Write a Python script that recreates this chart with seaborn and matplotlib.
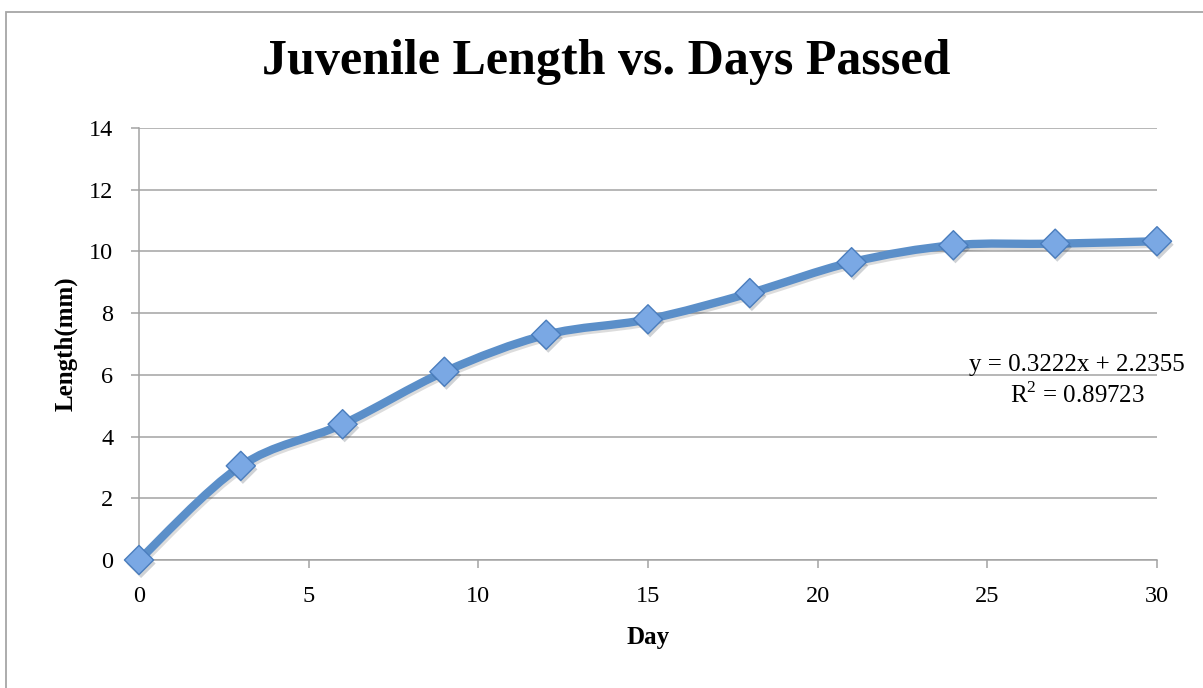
import numpy as np
import pandas as pd
import seaborn as sns
import matplotlib
matplotlib.use("Agg")
import matplotlib.pyplot as plt
from matplotlib.path import Path
from matplotlib.patches import PathPatch, Rectangle
import matplotlib.patheffects as pe

# ---- data ----
days = [0, 3, 6, 9, 12, 15, 18, 21, 24, 27, 30]
length_mm = [0.0, 3.05, 4.4, 6.1, 7.3, 7.8, 8.65, 9.65, 10.2, 10.25, 10.33]
x_ticks = [0, 5, 10, 15, 20, 25, 30]
y_ticks = [0, 2, 4, 6, 8, 10, 12, 14]
title = "Juvenile Length vs. Days Passed"
x_label = "Day"
y_label = "Length(mm)"
trend_text = "y = 0.3222x + 2.2355\nR$^2$ = 0.89723"

df = pd.DataFrame({"Day": days, "Length": length_mm})

sns.set_theme(style="white")
plt.rcParams["font.family"] = ["Liberation Serif", "DejaVu Serif"]
plt.rcParams["mathtext.fontset"] = "custom"
plt.rcParams["mathtext.rm"] = "Liberation Serif"
for k in ["text.color", "axes.labelcolor", "xtick.labelcolor", "ytick.labelcolor"]:
    plt.rcParams[k] = "black"

fig = plt.figure(figsize=(12.03, 6.88), dpi=100)
ax = fig.add_axes([139/1203, 1-560/688, (1157-139)/1203, (560-128)/688])

grid_c = "#a3a3a3"
line_c = "#5b8fc9"

# smoothed line (Excel-style Catmull-Rom Bezier through the data points)
pts = df[["Day", "Length"]].to_numpy(dtype=float)
verts = [tuple(pts[0])]
codes = [Path.MOVETO]
n = len(pts)
for i in range(n - 1):
    p0 = pts[i - 1] if i > 0 else pts[i]
    p1 = pts[i]
    p2 = pts[i + 1]
    p3 = pts[i + 2] if i + 2 < n else pts[i + 1]
    c1 = p1 + (p2 - p0) / 6.0
    c2 = p2 - (p3 - p1) / 6.0
    verts += [tuple(c1), tuple(c2), tuple(p2)]
    codes += [Path.CURVE4] * 3
patch = PathPatch(Path(verts, codes), facecolor="none", edgecolor=line_c,
                  lw=6.0, capstyle="round", joinstyle="round", zorder=3)
patch.set_path_effects([pe.SimpleLineShadow(offset=(1.2, -1.8), shadow_color="k", alpha=0.15),
                        pe.Normal()])
ax.add_patch(patch)

sns.scatterplot(data=df, x="Day", y="Length", marker="D", s=220,
                color="#7aa8e4", edgecolor="#4a7dbd", linewidth=1.0,
                ax=ax, zorder=4, clip_on=False)
for coll in ax.collections:
    coll.set_path_effects([pe.SimplePatchShadow(offset=(1.5, -2.5), alpha=0.22),
                           pe.Normal()])

ax.set_xlim(0, 30)
ax.set_ylim(0, 14)
ax.set_xticks(x_ticks)
ax.set_yticks(y_ticks)
ax.yaxis.grid(True, color=grid_c, lw=1.1)
ax.xaxis.grid(False)
for s in ["top", "right"]:
    ax.spines[s].set_visible(False)
for s in ["left", "bottom"]:
    ax.spines[s].set_color(grid_c)
    ax.spines[s].set_linewidth(1.1)
ax.tick_params(axis="both", which="major", direction="out", length=5.5,
               width=1.1, color=grid_c, labelsize=17.5, labelcolor="black")
ax.tick_params(axis="y", pad=13, left=True)
ax.tick_params(axis="x", pad=13, bottom=True)
ax.set_xlabel(x_label, fontsize=18, fontweight="bold", labelpad=14)
ax.set_ylabel(y_label, fontsize=18, fontweight="bold", labelpad=8)

fig.text(606/1203, 1-62/688, title, fontsize=36, fontweight="bold",
         ha="center", va="center")

ax.text(1077/1203, 1-381/688, trend_text, transform=fig.transFigure,
        fontsize=18, ha="center", va="center", linespacing=1.3)

# chart area border
fig.patches.append(Rectangle((5.5/1203, -0.1), 1.2, 1.1 - 12/688,
                             transform=fig.transFigure, fill=False,
                             edgecolor="#a6a6a6", lw=1.3))

fig.savefig("out.png", dpi=100)
